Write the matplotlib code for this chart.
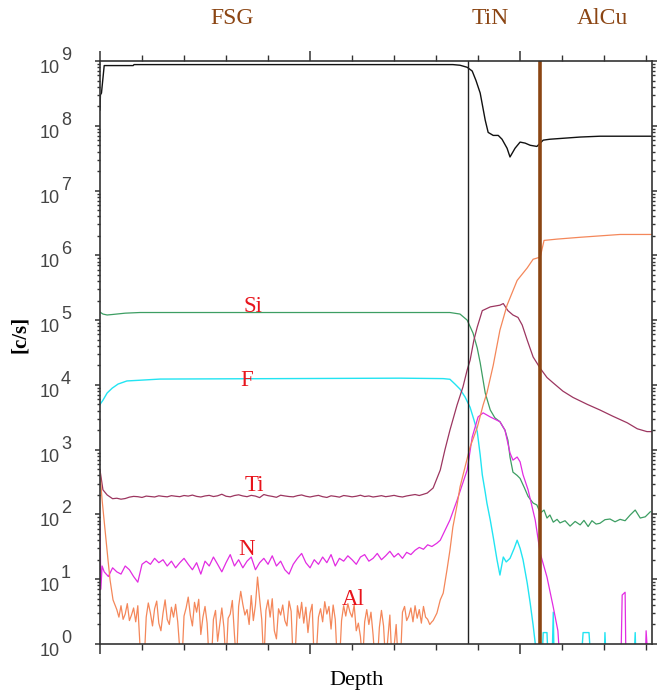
import numpy as np
import matplotlib.pyplot as plt
import matplotlib.transforms as mtransforms
from matplotlib.ticker import MultipleLocator, LogLocator, NullFormatter

# SIMS depth profile, counts per second vs depth (depth in tick units)
matrix_depth = [0.0, 0.01, 0.035, 0.1, 0.79, 0.81, 8.4, 8.57, 8.74, 8.86, 8.95,
                9.05, 9.17, 9.24, 9.36, 9.48, 9.57, 9.69, 9.76, 9.88, 10.0, 10.12,
                10.24, 10.4, 10.55, 10.71, 11.43, 11.9, 13.14]
matrix_cps = [1.75e8, 3.0e8, 3.2e8, 8.5e8, 8.5e8, 8.8e8, 8.8e8, 8.6e8, 8.0e8, 7.0e8, 5.0e8,
              3.2e8, 1.22e8, 7.9e7, 7.1e7, 7.1e7, 6.2e7, 4.5e7, 3.3e7, 4.5e7, 5.6e7, 5.4e7,
              5.0e7, 4.8e7, 6.0e7, 6.2e7, 6.7e7, 6.9e7, 6.9e7]

si_depth = [0.0, 0.07, 0.17, 0.29, 0.6, 0.95, 7.14, 8.33, 8.57, 8.74, 8.88, 8.98,
            9.05, 9.17, 9.29, 9.40, 9.52, 9.64, 9.71, 9.76, 9.83, 9.93,
            10.0, 10.1, 10.19, 10.31, 10.4, 10.48, 10.57, 10.64, 10.71, 10.79, 10.88, 10.95,
            11.07, 11.19, 11.31, 11.43, 11.52, 11.62, 11.71, 11.81, 11.9,
            12.02, 12.14, 12.26, 12.38, 12.5, 12.62, 12.74, 12.86, 12.98, 13.1]
si_cps = [1.33e5, 1.24e5, 1.2e5, 1.22e5, 1.28e5, 1.31e5, 1.31e5, 1.31e5, 1.24e5, 1.0e5, 6.3e4, 3.7e4,
          2.2e4, 7.5e3, 4.1e3, 3.1e3, 2.7e3, 2.0e3, 1.4e3, 770, 450, 400,
          360, 260, 190, 150, 140, 105, 117, 88, 98, 76, 84, 74,
          80, 66, 78, 69, 81, 65, 80, 71, 73,
          83, 85, 77, 84, 80, 98, 117, 88, 92, 110]

f_depth = [0.0, 0.07, 0.17, 0.29, 0.43, 0.64, 0.95, 1.43, 7.14,
           8.17, 8.33, 8.45, 8.57, 8.69, 8.81, 8.9, 8.98,
           9.05, 9.1, 9.17, 9.21, 9.29, 9.36, 9.45, 9.52, 9.6, 9.67, 9.76, 9.86, 9.93,
           10.0, 10.07, 10.17, 10.24, 10.31, 10.36, 10.4,
           10.52, 10.55, 10.64, 10.67, 10.76, 10.79, 10.81,
           11.45, 11.5, 11.64, 11.69, 12.0, 12.02, 12.05, 12.71, 12.74, 12.76, 13.14]
f_cps = [5.0e3, 5.8e3, 7.5e3, 8.9e3, 1.03e4, 1.15e4, 1.18e4, 1.23e4, 1.27e4,
         1.25e4, 1.22e4, 1.03e4, 8.6e3, 6.5e3, 4.5e3, 2.9e3, 1.9e3,
         830, 410, 220, 150, 82, 45, 20, 11.6, 22, 18.5, 21, 30, 40,
         30, 20, 8.7, 4.3, 1.96, 1.03, 0.5,
         0.5, 1.5, 1.5, 0.5, 0.5, 3.1, 0.5,
         0.5, 1.5, 1.5, 0.5, 0.5, 1.5, 0.5, 0.5, 1.5, 0.5, 0.5]

# Ti: start, FSG plateau (step 0.1 from 0.4), then TiN peak and tail
ti_head_depth = [0.0, 0.07, 0.17, 0.3]
ti_head_cps = [485, 240, 200, 175]
ti_fsg_cps = [178, 172, 176, 185, 190, 188, 183, 192, 189, 186,
              194, 190, 187, 195, 191, 188, 196, 192, 199, 190,
              186, 193, 197, 189, 194, 205, 191, 187, 196, 201,
              193, 188, 197, 192, 182, 203, 195, 190, 184, 198,
              193, 189, 187, 195, 200, 191, 186, 192, 197, 188,
              183, 194, 190, 185, 196, 192, 187, 191, 198, 189,
              193, 186, 190, 195, 188, 192, 197, 190, 186, 193,
              198, 203, 196, 205]
ti_tail_depth = [7.79, 7.93, 8.1, 8.21, 8.33, 8.5, 8.64, 8.74, 8.81, 8.9, 8.98,
                 9.1, 9.29, 9.52, 9.6, 9.71, 9.83, 9.95, 10.05, 10.17, 10.31, 10.48,
                 10.64, 10.79, 11.02, 11.26, 11.6, 11.9, 12.2, 12.55, 12.79, 13.02, 13.14]
ti_tail_cps = [214, 256, 485, 990, 2.0e3, 4.9e3, 9.3e3, 1.7e4, 2.4e4, 4.9e4, 7.8e4,
               1.4e5, 1.6e5, 1.7e5, 1.8e5, 1.4e5, 1.2e5, 1.1e5, 8.4e4, 4.9e4, 2.7e4, 1.8e4,
               1.3e4, 1.07e4, 8.0e3, 6.4e3, 5.0e3, 4.1e3, 3.3e3, 2.6e3, 2.1e3, 1.9e3, 1.9e3]

# N: FSG noise on a 0.1 step from 0.1
n_head_depth = [0.0, 0.02, 0.05]
n_head_cps = [75, 7, 16]
n_fsg_cps = [13, 11, 15, 13, 12, 16, 14, 11, 9, 17,
             19, 17, 21, 18, 20, 16, 19, 15, 18, 21,
             17, 14, 18, 12, 19, 16, 22, 17, 13, 18,
             24, 16, 20, 15, 19, 22, 14, 18, 21, 17,
             23, 16, 19, 14, 12, 17, 21, 25, 18, 15,
             20, 17, 22, 18, 24, 16, 21, 19, 23, 20,
             17, 22, 24, 19, 21, 25, 20, 23, 27, 22,
             25, 21, 26, 24, 28, 31, 29, 34, 32]
n_tail_depth = [8.02, 8.1, 8.33, 8.5, 8.62, 8.74, 8.86, 9.0, 9.12, 9.29, 9.52, 9.64,
                9.76, 9.83, 9.93, 10.0, 10.07, 10.19, 10.36, 10.48, 10.64, 10.79, 10.9,
                10.95, 12.4, 12.43, 12.5, 12.52, 12.98, 13.0, 13.05, 13.14]
n_tail_cps = [36, 40, 82, 166, 284, 485, 1.56e3, 3.2e3, 3.7e3, 3.2e3, 2.7e3, 2.0e3,
              890, 690, 770, 650, 410, 240, 82, 25, 10.8, 3.7, 1.6,
              0.5, 0.5, 5.7, 6.3, 0.5, 0.5, 1.6, 0.5, 0.5]

# Al: FSG noise on a 0.05 step from 0.4 (0.5 = zero counts, below axis)
al_head_depth = [0.0, 0.05, 0.12, 0.19, 0.24, 0.31]
al_head_cps = [440, 167, 57, 20, 9.7, 4.8]
al_fsg_cps = [3.4, 2.6, 3.9, 2.4, 2.9, 4.2, 2.3, 2.8, 3.6, 2.2,
              3.9, 1.0, 0.5, 0.5, 2.6, 4.3, 3.0, 1.9, 3.5, 4.6,
              2.1, 1.6, 3.0, 4.8, 2.4, 2.0, 3.7, 2.6, 4.1, 2.2,
              0.8, 0.5, 2.7, 3.6, 5.3, 2.8, 1.9, 4.4, 3.1, 4.9,
              1.4, 2.6, 3.8, 2.1, 0.5, 0.5, 2.4, 3.3, 1.1, 2.0,
              3.6, 1.8, 0.5, 2.5, 2.9, 4.7, 1.4, 0.5, 3.8, 6.5,
              4.1, 2.8, 3.4, 2.0, 5.6, 2.3, 4.0, 10.8, 4.9, 2.4,
              0.5, 3.3, 4.8, 2.6, 5.0, 1.6, 1.2, 3.5, 2.8, 4.0,
              2.3, 1.9, 4.6, 3.2, 0.5, 0.8, 3.9, 2.5, 4.4, 2.1,
              3.7, 1.5, 3.0, 4.1, 0.5, 0.7, 2.6, 3.5, 2.2, 4.5,
              2.9, 3.8, 1.7, 4.0, 2.4, 0.5, 0.5, 2.3, 3.9, 2.7,
              4.2, 3.1, 2.6, 4.0, 1.6, 2.1, 1.3, 0.5, 2.2, 3.4,
              2.0, 3.1, 1.4, 0.5, 0.5, 1.8, 3.3, 1.9, 0.5, 1.2,
              2.8, 0.5, 0.9, 2.0, 0.5, 0.5, 3.1, 3.8, 2.3, 2.7,
              3.6, 2.2, 3.9, 2.5, 3.4, 2.1, 3.8, 2.6, 2.4, 2.0,
              2.2]
al_tail_depth = [7.93, 8.02, 8.1, 8.17, 8.26, 8.33, 8.4, 8.5, 8.57, 8.69, 8.81, 8.98,
                 9.12, 9.21, 9.36, 9.52, 9.69, 9.93, 10.17, 10.31, 10.48, 10.57, 10.88,
                 11.43, 11.9, 12.38, 13.14]
al_tail_cps = [2.3, 3.0, 4.8, 6.1, 14, 28, 64, 140, 265, 540, 1.1e3, 2.2e3,
               4.9e3, 7.5e3, 2.0e4, 7.0e4, 1.7e5, 4.1e5, 6.4e5, 8.7e5, 9.4e5, 1.7e6, 1.78e6,
               1.9e6, 2.0e6, 2.1e6, 2.1e6]

interfaces = [8.76, 10.48]          # FSG/TiN, TiN/AlCu
layer_names = ["FSG", "TiN", "AlCu"]
layer_pos = [3.14, 9.29, 11.95]
species = ["Si", "F", "Ti", "N", "Al"]
species_pos = [(3.64, 1.65e5), (3.48, 1.18e4), (3.67, 2.8e2), (3.48, 29), (6.02, 4.8)]


def join(head_d, head_c, start, step, fsg_c, tail_d, tail_c):
    grid = start + step * np.arange(len(fsg_c))
    return (np.concatenate([head_d, grid, tail_d]),
            np.concatenate([head_c, fsg_c, tail_c]))


ti_d, ti_c = join(ti_head_depth, ti_head_cps, 0.4, 0.1, ti_fsg_cps, ti_tail_depth, ti_tail_cps)
n_d, n_c = join(n_head_depth, n_head_cps, 0.1, 0.1, n_fsg_cps, n_tail_depth, n_tail_cps)
al_d, al_c = join(al_head_depth, al_head_cps, 0.4, 0.05, al_fsg_cps, al_tail_depth, al_tail_cps)

serif = "Liberation Serif"
fig = plt.figure(figsize=(6.64, 6.95), dpi=100)
ax = fig.add_axes([100 / 664, 1 - 644 / 695, 552 / 664, 583 / 695])

ax.plot(matrix_depth, matrix_cps, color="#111111", lw=1.0)
ax.plot(si_depth, si_cps, color="#3d9e63", lw=0.9)
ax.plot(f_depth, f_cps, color="#22e4f2", lw=1.0)
ax.plot(ti_d, ti_c, color="#9c3660", lw=0.9)
ax.plot(n_d, n_c, color="#e22ce2", lw=0.9)
ax.plot(al_d, al_c, color="#f4875a", lw=0.9)

ax.axvline(interfaces[0], color="#222222", lw=1.0)
ax.axvline(interfaces[1], color="#8b4513", lw=2.6)

ax.set_yscale("log")
ax.set_ylim(1, 1e9)
ax.set_xlim(0, 13.14)

ax.xaxis.set_major_locator(MultipleLocator(5))
ax.xaxis.set_minor_locator(MultipleLocator(1))
ax.yaxis.set_major_locator(LogLocator(base=10, numticks=12))
ax.yaxis.set_minor_locator(LogLocator(base=10, subs=np.arange(2, 10), numticks=12))
ax.xaxis.set_major_formatter(NullFormatter())
ax.yaxis.set_major_formatter(NullFormatter())
ax.yaxis.set_minor_formatter(NullFormatter())

ax.tick_params(axis="x", which="major", direction="out", length=7, width=1.1,
               top=True, bottom=True, color="#333333")
ax.tick_params(axis="x", which="minor", direction="out", length=4.3, width=1.0,
               top=True, bottom=True, color="#333333")
ax.tick_params(axis="y", which="major", direction="out", length=3.8, width=1.1,
               left=True, right=True, color="#333333")
ax.tick_params(axis="y", which="minor", direction="out", length=2.4, width=1.0,
               left=True, right=True, color="#333333")
for s in ax.spines.values():
    s.set_color("#333333")
    s.set_linewidth(1.2)

# decade labels drawn as "10" plus a large exponent
ytrans = mtransforms.blended_transform_factory(fig.transFigure, ax.transData)
base_trans = mtransforms.offset_copy(ytrans, fig=fig, x=0, y=-12 * 0.72, units="points")
exp_trans = mtransforms.offset_copy(ytrans, fig=fig, x=0, y=1 * 0.72, units="points")
for k in range(10):
    ax.text(60 / 664, 10.0 ** k, "10", transform=base_trans, ha="right", va="baseline",
            fontsize=13, family="Liberation Sans", color="#444444")
    ax.text(61 / 664, 10.0 ** k, str(k), transform=exp_trans, ha="left", va="baseline",
            fontsize=13, family="Liberation Sans", color="#444444")

xtrans = mtransforms.blended_transform_factory(ax.transData, fig.transFigure)
for name, xp in zip(layer_names, layer_pos):
    ax.text(xp, 1 - 18 / 695, name, transform=xtrans, ha="center", va="center",
            fontsize=17, family=serif, color="#8b4513")

for name, (xp, yp) in zip(species, species_pos):
    ax.text(xp, yp, name, ha="center", va="center", fontsize=16.5,
            family=serif, color="#e8141c")

fig.text(356 / 664, 1 - 681 / 695, "Depth", ha="center", va="center",
         fontsize=16, family=serif)
fig.text(20 / 664, 1 - 334 / 695, "[c/s]", ha="center", va="center", rotation=90,
         fontsize=15, family=serif, fontweight="bold")

fig.savefig("out.png", dpi=100)
